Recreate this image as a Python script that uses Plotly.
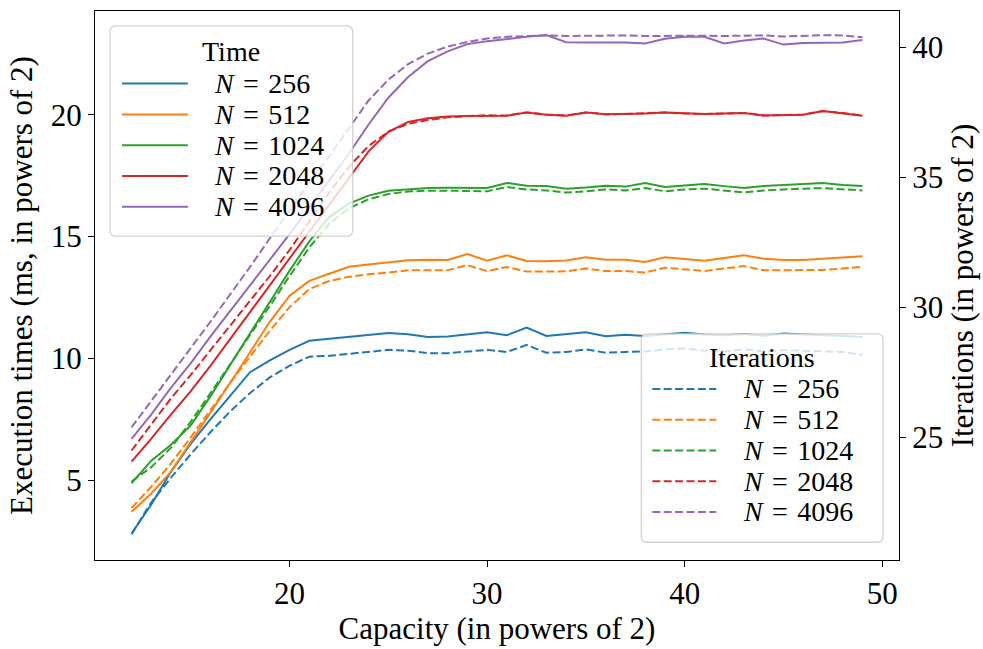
import plotly.graph_objects as go

# ---------------- data ----------------
capacity = list(range(12, 50))

time_256 = [2.81, 4.0, 5.35, 6.5, 7.5, 8.45, 9.43, 9.92, 10.35, 10.72, 10.8, 10.88, 10.96, 11.04,
            10.99, 10.88, 10.9, 10.99, 11.07, 10.95, 11.26, 10.92, 10.98, 11.07, 10.91, 10.97,
            10.92, 11.0, 11.05, 10.98, 10.95, 11.0, 10.93, 11.02, 10.97, 10.95, 10.92, 10.88]
time_512 = [3.7, 4.45, 5.35, 6.55, 7.8, 9.0, 10.25, 11.5, 12.57, 13.18, 13.47, 13.76, 13.85, 13.93,
            14.03, 14.05, 14.04, 14.28, 14.01, 14.23, 14.0, 13.99, 14.02, 14.15, 14.05, 14.05,
            13.96, 14.15, 14.08, 14.01, 14.12, 14.23, 14.09, 14.04, 14.04, 14.09, 14.15, 14.19]
time_1024 = [4.87, 5.8, 6.45, 7.25, 8.45, 9.75, 11.05, 12.35, 13.6, 14.8, 15.8, 16.35, 16.68, 16.88,
             16.95, 16.99, 17.0, 16.98, 16.99, 17.2, 17.09, 17.07, 16.96, 17.01, 17.09, 17.05,
             17.2, 17.03, 17.09, 17.16, 17.07, 16.99, 17.07, 17.12, 17.16, 17.2, 17.12, 17.07]
time_2048 = [5.76, 6.7, 7.7, 8.65, 9.7, 10.8, 11.9, 13.05, 14.1, 15.2, 16.3, 17.4, 18.5, 19.3,
             19.7, 19.86, 19.93, 19.95, 19.97, 19.96, 20.09, 20.0, 19.96, 20.09, 20.02, 20.03,
             20.05, 20.09, 20.05, 20.03, 20.05, 20.07, 19.97, 19.98, 20.0, 20.15, 20.07, 19.96]
time_4096 = [6.69, 7.7, 8.8, 9.8, 10.9, 11.95, 13.0, 14.05, 15.1, 16.2, 17.3, 18.4, 19.6, 20.7,
             21.55, 22.2, 22.6, 22.9, 23.02, 23.12, 23.2, 23.27, 22.98, 22.97, 22.97, 22.97,
             22.93, 23.12, 23.2, 23.2, 22.93, 23.05, 23.13, 22.88, 22.95, 22.97, 22.97, 23.07]

iter_256 = [21.27, 22.5, 23.45, 24.35, 25.2, 26.0, 26.7, 27.3, 27.75, 28.1, 28.13, 28.2, 28.28, 28.36,
            28.33, 28.23, 28.23, 28.3, 28.36, 28.28, 28.55, 28.25, 28.28, 28.38, 28.25, 28.28,
            28.3, 28.38, 28.42, 28.33, 28.3, 28.38, 28.3, 28.35, 28.32, 28.3, 28.28, 28.17]
iter_512 = [22.28, 23.1, 24.0, 25.0, 26.05, 27.1, 28.1, 29.1, 30.0, 30.7, 31.01, 31.17, 31.27, 31.33,
            31.42, 31.42, 31.42, 31.62, 31.39, 31.55, 31.37, 31.37, 31.38, 31.49, 31.39, 31.39,
            31.33, 31.52, 31.45, 31.39, 31.49, 31.58, 31.42, 31.42, 31.42, 31.43, 31.49, 31.55]
iter_1024 = [23.3, 23.85, 24.6, 25.6, 26.7, 27.8, 28.9, 30.05, 31.2, 32.3, 33.2, 33.8, 34.15, 34.35,
             34.45, 34.48, 34.48, 34.47, 34.46, 34.62, 34.53, 34.49, 34.41, 34.46, 34.53, 34.49,
             34.58, 34.46, 34.53, 34.56, 34.49, 34.41, 34.49, 34.53, 34.56, 34.58, 34.53, 34.49]
iter_2048 = [24.49, 25.5, 26.5, 27.4, 28.35, 29.3, 30.25, 31.2, 32.2, 33.3, 34.4, 35.4, 36.2, 36.75,
             37.05, 37.2, 37.3, 37.35, 37.38, 37.37, 37.49, 37.41, 37.37, 37.49, 37.42, 37.43,
             37.45, 37.49, 37.45, 37.43, 37.45, 37.47, 37.37, 37.39, 37.41, 37.54, 37.47, 37.37]
iter_4096 = [25.38, 26.4, 27.4, 28.4, 29.45, 30.5, 31.55, 32.65, 33.75, 34.8, 35.8, 36.9, 37.95, 38.75,
             39.35, 39.75, 40.02, 40.2, 40.33, 40.4, 40.42, 40.45, 40.43, 40.44, 40.44, 40.45,
             40.43, 40.44, 40.45, 40.44, 40.43, 40.44, 40.45, 40.41, 40.43, 40.46, 40.45, 40.38]

sizes = ["256", "512", "1024", "2048", "4096"]
time_series = [time_256, time_512, time_1024, time_2048, time_4096]
iter_series = [iter_256, iter_512, iter_1024, iter_2048, iter_4096]
x_ticks = [20, 30, 40, 50]
left_ticks = [5, 10, 15, 20]
right_ticks = [25, 30, 35, 40]

# ---------------- style ----------------
colors = ["#1f77b4", "#ff7f0e", "#2ca02c", "#d62728", "#9467bd"]
FONT = "Liberation Serif, Times New Roman, DejaVu Serif, serif"
FS = 31
LFS = 28
W, H = 983, 649
ML, MR, MT, MB = 95, 83, 10, 83
DASH = "8px,3.4px"

fig = go.Figure()
for name, ys, c in zip(sizes, time_series, colors):
    fig.add_trace(go.Scatter(x=capacity, y=ys, mode="lines", name="Time N=" + name,
                             line=dict(color=c, width=2), yaxis="y", showlegend=False))
for name, ys, c in zip(sizes, iter_series, colors):
    fig.add_trace(go.Scatter(x=capacity, y=ys, mode="lines", name="Iterations N=" + name,
                             line=dict(color=c, width=2, dash=DASH), yaxis="y2", showlegend=False))

# ------------- manual legends (pixel geometry -> paper coords) -------------
PW, PH = W - ML - MR, H - MT - MB


def px(xp):
    return (xp - ML) / PW


def py(yp):
    return (H - MB - yp) / PH


def rounded_box(x0, y0, x1, y1, r):
    pts = [("M", [(x0 + r, y0)]), ("L", [(x1 - r, y0)]), ("Q", [(x1, y0), (x1, y0 + r)]),
           ("L", [(x1, y1 - r)]), ("Q", [(x1, y1), (x1 - r, y1)]), ("L", [(x0 + r, y1)]),
           ("Q", [(x0, y1), (x0, y1 - r)]), ("L", [(x0, y0 + r)]), ("Q", [(x0, y0), (x0 + r, y0)])]
    s = ""
    for cmd, ps in pts:
        s += cmd + " " + " ".join(f"{px(a):.5f},{py(b):.5f}" for a, b in ps) + " "
    return s + "Z"


shapes = []
annotations = []


def add_legend(box, title, title_xy, rows_y, sample_x, text_x, dash):
    x0, y0, x1, y1 = box
    shapes.append(dict(type="path", xref="paper", yref="paper", layer="above",
                       path=rounded_box(x0, y0, x1, y1, 6),
                       fillcolor="rgba(255,255,255,0.8)",
                       line=dict(color="rgba(204,204,204,0.9)", width=1.3)))
    annotations.append(dict(xref="paper", yref="paper", x=px(title_xy[0]), y=py(title_xy[1]),
                            text=title, showarrow=False, xanchor="center", yanchor="middle",
                            borderpad=0,
                            font=dict(family=FONT, size=LFS, color="black")))
    for name, c, yy in zip(sizes, colors, rows_y):
        shapes.append(dict(type="line", xref="paper", yref="paper", layer="above",
                           x0=px(sample_x[0]), x1=px(sample_x[1]), y0=py(yy), y1=py(yy),
                           line=dict(color=c, width=2, dash=dash)))
        annotations.append(dict(xref="paper", yref="paper", x=px(text_x), y=py(yy),
                                text="<i>N</i>\u2004=\u2004" + name, showarrow=False,
                                xanchor="left", yanchor="middle", borderpad=0,
                                font=dict(family=FONT, size=LFS, color="black")))


add_legend((110, 25, 353, 238), "Time", (231, 51), [83.5, 114.7, 145.9, 177.1, 208.3],
           (122, 188), 213, "solid")
add_legend((642, 337, 884, 548), "Iterations", (763, 361), [392.7, 424, 455.2, 486.3, 517.3],
           (653, 717), 743, DASH)

axis_common = dict(showline=True, linecolor="black", linewidth=1.3, ticks="outside", ticklen=6,
                   tickwidth=1.3, tickcolor="black", showgrid=False, zeroline=False,
                   tickfont=dict(family=FONT, size=FS, color="black"))

fig.update_layout(
    width=W, height=H,
    margin=dict(l=ML, r=MR, t=MT, b=MB),
    paper_bgcolor="white", plot_bgcolor="white",
    font=dict(family=FONT, size=FS, color="black"),
    showlegend=False,
    xaxis=dict(range=[10.15, 50.85], tickvals=x_ticks, mirror=True,
               title=dict(text="Capacity (in powers of 2)", font=dict(family=FONT, size=FS), standoff=6),
               **axis_common),
    yaxis=dict(range=[1.72, 24.26], tickvals=left_ticks,
               title=dict(text="Execution times (ms, in powers of 2)", font=dict(family=FONT, size=FS), standoff=8),
               **axis_common),
    yaxis2=dict(range=[20.28, 41.39], tickvals=right_ticks, overlaying="y", side="right",
                title=dict(text="Iterations (in powers of 2)", font=dict(family=FONT, size=FS), standoff=8),
                **axis_common),
    shapes=shapes,
    annotations=annotations,
)

fig.write_html("out.html")
